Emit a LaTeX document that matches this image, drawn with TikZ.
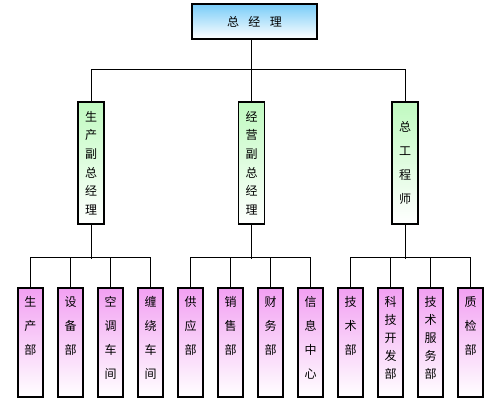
\documentclass[tikz,border=0pt]{standalone}
\usepackage{fontspec}
\setmainfont{Noto Sans CJK SC}
\usepackage{tikz}
\usepackage{color}

\definecolor{topblue}{RGB}{120,204,248}
\definecolor{midgreen}{RGB}{192,250,192}
\definecolor{deptpink}{RGB}{242,160,242}

\newcommand{\deptlabel}[1]{\parbox[c][81.75pt][t]{18pt}{\centering\vspace{6.5pt}#1}}

\begin{document}
\begin{tikzpicture}[x=0.75pt,y=-0.75pt,
  boss/.style={draw=black,line width=0.8pt,top color=topblue,bottom color=white,
    minimum width=93.75pt,minimum height=26.25pt,inner sep=0pt,font=\fontsize{9}{11}\selectfont},
  vice/.style={draw=black,line width=0.8pt,top color=midgreen,bottom color=white,
    minimum width=19.5pt,minimum height=91.5pt,inner sep=0pt,align=center},
  dept/.style={draw=black,line width=0.8pt,top color=deptpink,bottom color=white,
    minimum width=18.75pt,inner sep=0pt,font=\fontsize{9}{18}\selectfont},
  tight/.style={font=\fontsize{9}{13.5}\selectfont},
  link/.style={draw=black,line width=0.75pt}]
  \useasboundingbox[fill=white] (0,0) rectangle (500,400);

  \node[boss] (zjl) at (254.5,21.5) {总\hspace{7pt}经\hspace{7pt}理\hspace{6pt}};

  \node[vice,font=\fontsize{9}{13.9}\selectfont] (scfz) at (91,163) {生\\产\\副\\总\\经\\理};
  \node[vice,font=\fontsize{9}{13.9}\selectfont] (jyfz) at (251.5,163) {经\\营\\副\\总\\经\\理};
  \node[vice,font=\fontsize{9}{18}\selectfont] (zgcs) at (405,163) {总\\工\\程\\师};

  \node[dept] (scb) at (30.5,342.5) {\deptlabel{生\\产\\部}};
  \node[dept] (sbb) at (70.5,342.5) {\deptlabel{设\\备\\部}};
  \node[dept] (ktcj) at (110.5,342.5) {\deptlabel{空\\调\\车\\间}};
  \node[dept] (crcj) at (150.5,342.5) {\deptlabel{缠\\绕\\车\\间}};

  \node[dept] (gyb) at (190.5,342.5) {\deptlabel{供\\应\\部}};
  \node[dept] (xsb) at (230.5,342.5) {\deptlabel{销\\售\\部}};
  \node[dept] (cwb) at (270.5,342.5) {\deptlabel{财\\务\\部}};
  \node[dept] (xxzx) at (310.5,342.5) {\deptlabel{信\\息\\中\\心}};

  \node[dept] (jsb) at (350.5,342.5) {\deptlabel{技\\术\\部}};
  \node[dept,tight] (kjkf) at (390.5,342.5) {\deptlabel{科\\技\\开\\发\\部}};
  \node[dept,tight] (jsfw) at (430.5,342.5) {\deptlabel{技\\术\\服\\务\\部}};
  \node[dept] (zjb) at (470.5,342.5) {\deptlabel{质\\检\\部}};

  % top level
  \draw[link] (jyfz.north) -- (jyfz.north |- zjl.south);
  \draw[link] (scfz.north) -- ++(0,-32) -| (zgcs.north);

  % production
  \draw[link] (scfz.south) -- ++(0,34);
  \draw[link] (scb.north) -- ++(0,-30) -| (crcj.north);
  \draw[link] (sbb.north) -- ++(0,-30);
  \draw[link] (ktcj.north) -- ++(0,-30);

  % business
  \draw[link] (jyfz.south) -- ++(0,34);
  \draw[link] (gyb.north) -- ++(0,-30) -| (xxzx.north);
  \draw[link] (xsb.north) -- ++(0,-30);
  \draw[link] (cwb.north) -- ++(0,-30);

  % engineering
  \draw[link] (zgcs.south) -- ++(0,34);
  \draw[link] (jsb.north) -- ++(0,-30) -| (zjb.north);
  \draw[link] (kjkf.north) -- ++(0,-30);
  \draw[link] (jsfw.north) -- ++(0,-30);
\end{tikzpicture}
\end{document}
